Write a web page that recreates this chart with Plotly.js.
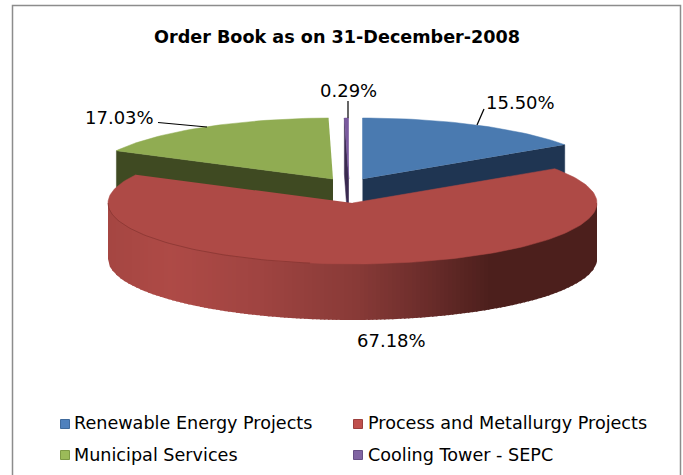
<!DOCTYPE html>
<html><head><meta charset="utf-8">
<script src="https://cdn.plot.ly/plotly-3.0.1.min.js"></script>
<style>html,body{margin:0;padding:0;background:#fff}#c{width:683px;height:475px}</style>
</head><body><div id="c"></div>
<script>
const categories=['Renewable Energy Projects','Process and Metallurgy Projects','Municipal Services','Cooling Tower - SEPC'];
const shares=[15.50,67.18,17.03,0.29];
const percentLabels=['15.50%','67.18%','17.03%','0.29%'];
const topColors=['#4a7ab0','#ae4a46','#90ac52','#7a5a9e'];
const sideColors=['#1f3552','#4a1e1b','#3f4a22','#3a2a50'];
const swatchColors=['#4f81bd','#c0504d','#9bbb59','#8064a2'];
const swatchEdges=['#3f6a9c','#9c3f3d','#7d9a45','#664f85'];
const chartTitle='Order Book as on 31-December-2008';

// pie geometry (axis units equal pixels)
const RX=244.5,RY=61,DEPTH=56;
const centers=[[362.5,179],[352.5,203],[333,179],[348.8,179]];
const drawOrder=[2,3,0,1];

function arc(c,a0,a1,dy){
  const n=Math.max(2,Math.ceil(Math.abs(a1-a0)/1.5)),xs=[],ys=[];
  for(let i=0;i<=n;i++){const a=(a0+(a1-a0)*i/n)*Math.PI/180;
    xs.push(c[0]+RX*Math.sin(a));ys.push(c[1]-RY*Math.cos(a)+dy);}
  return [xs,ys];
}
function poly(xs,ys,color,w){return {type:'scatter',mode:'lines',x:xs,y:ys,fill:'toself',fillcolor:color,
  line:{color:color,width:w===undefined?0.5:w},hoverinfo:'skip',showlegend:false};}
function lerp(a,b,t){return a.map((v,i)=>Math.round(v+(b[i]-v)*t));}
const wallStops=[[108,[165,70,66]],[170,[174,74,70]],[257,[160,68,65]],[357,[136,58,55]],[423,[108,45,43]],[490,[76,31,28]],[597,[76,31,28]]];
function wallColor(x){
  for(let s=0;s<wallStops.length-1;s++){const a=wallStops[s],b=wallStops[s+1];
    if(x>=a[0]&&x<=b[0])return lerp(a[1],b[1],(x-a[0])/(b[0]-a[0]));}
  return x<108?wallStops[0][1]:wallStops[wallStops.length-1][1];
}
function frontY(c,x,dy){const t=Math.min(1,Math.abs(x-c[0])/RX);return c[1]+RY*Math.sqrt(1-t*t)+dy;}

const starts=[];let acc=0;shares.forEach(v=>{starts.push(acc*3.6);acc+=v;});
const traces=[];
drawOrder.forEach(i=>{
  const c=centers[i],a0=starts[i],a1=a0+shares[i]*3.6;
  if(i===1){
    // curved outer wall: overlapping vertical strips painted left to right, light to dark
    const left=c[0]-RX,right=c[0]+RX,step=4;
    for(let x=left;x<right;x+=step){
      const x1=Math.min(right,x+step+1.5),xs=[],yb=[];
      for(let q=0;q<=6;q++){const px=x+(x1-x)*q/6;xs.push(px);yb.push(frontY(c,px,DEPTH));}
      const col='rgb('+wallColor(x+step/2).join(',')+')';
      traces.push(poly(xs.concat(xs.slice().reverse()),yb.concat(xs.map(()=>c[1]).reverse()),col,0));
    }
  } else {
    // flat cut faces, seen because these slices are pulled back
    const p=(a)=>[c[0]+RX*Math.sin(a*Math.PI/180),c[1]-RY*Math.cos(a*Math.PI/180)];
    const e=p(i===0?a1:a0);
    traces.push(poly([c[0],e[0],e[0],c[0]],[c[1],e[1],e[1]+DEPTH,c[1]+DEPTH],sideColors[i]));
  }
  const [tx,ty]=arc(c,a0,a1,0);
  if(i===1){
    // the wall strips start at the centre line, so the whole front half of the top face covers them
    traces.push(poly([c[0]].concat(tx),[c[1]].concat(ty),topColors[i]));
    const [rx,ry]=arc(c,270,190,0);
    traces.push({type:'scatter',mode:'lines',x:rx,y:ry,line:{color:'rgba(120,45,42,0.55)',width:1},hoverinfo:'skip',showlegend:false});
  } else {
    traces.push(poly([c[0]].concat(tx),[c[1]].concat(ty),topColors[i]));
  }
});

// leader lines from the slice rim to its label
const leaderPaths=[
  {x:[477,484],y:[125,109]},
  {x:[207,162,158],y:[127,122.5,122.5]},
  {x:[348,348],y:[118,101]}
];
leaderPaths.forEach(l=>traces.push({type:'scatter',mode:'lines',x:l.x,y:l.y,line:{color:'#000',width:1.2},hoverinfo:'skip',showlegend:false}));

// legend swatches
const swatchX=[65,358,65,358],swatchY=[424,424,455,455];
categories.forEach((n,i)=>traces.push({type:'scatter',mode:'markers',x:[swatchX[i]],y:[swatchY[i]],
  marker:{symbol:'square',size:9,color:swatchColors[i],line:{color:swatchEdges[i],width:1}},hoverinfo:'skip',showlegend:false}));

const font='DejaVu Sans, Verdana, sans-serif';
const ann=(x,y,t,anchor,size,bold)=>({x:x,y:y,xref:'x',yref:'y',text:bold?'<b>'+t+'</b>':t,showarrow:false,xanchor:anchor,yanchor:'middle',
  font:{family:font,size:size,color:'#000'}});
const annotations=[
  ann(337,37,chartTitle,'center',17.6,true),
  ann(520,102,percentLabels[0],'center',18),
  ann(391,340,percentLabels[1],'center',18),
  ann(119,117,percentLabels[2],'center',18),
  ann(348.5,90,percentLabels[3],'center',18),
  ann(72,423,categories[0],'left',17.6),
  ann(366,423,categories[1],'left',17.6),
  ann(72,455,categories[2],'left',17.6),
  ann(366,455,categories[3],'left',17.6)
];

const layout={width:683,height:475,margin:{l:0,r:0,t:0,b:0},paper_bgcolor:'#fff',plot_bgcolor:'#fff',showlegend:false,
  xaxis:{range:[0,683],visible:false,fixedrange:true},
  yaxis:{range:[475,0],visible:false,fixedrange:true},
  annotations:annotations,
  shapes:[{type:'rect',xref:'x',yref:'y',x0:12.5,y0:5.5,x1:680.5,y1:480,line:{color:'#8c8c8c',width:1.5},fillcolor:'rgba(0,0,0,0)',layer:'below'}]
};
Plotly.newPlot('c',traces,layout,{displayModeBar:false,staticPlot:true});
</script></body></html>
